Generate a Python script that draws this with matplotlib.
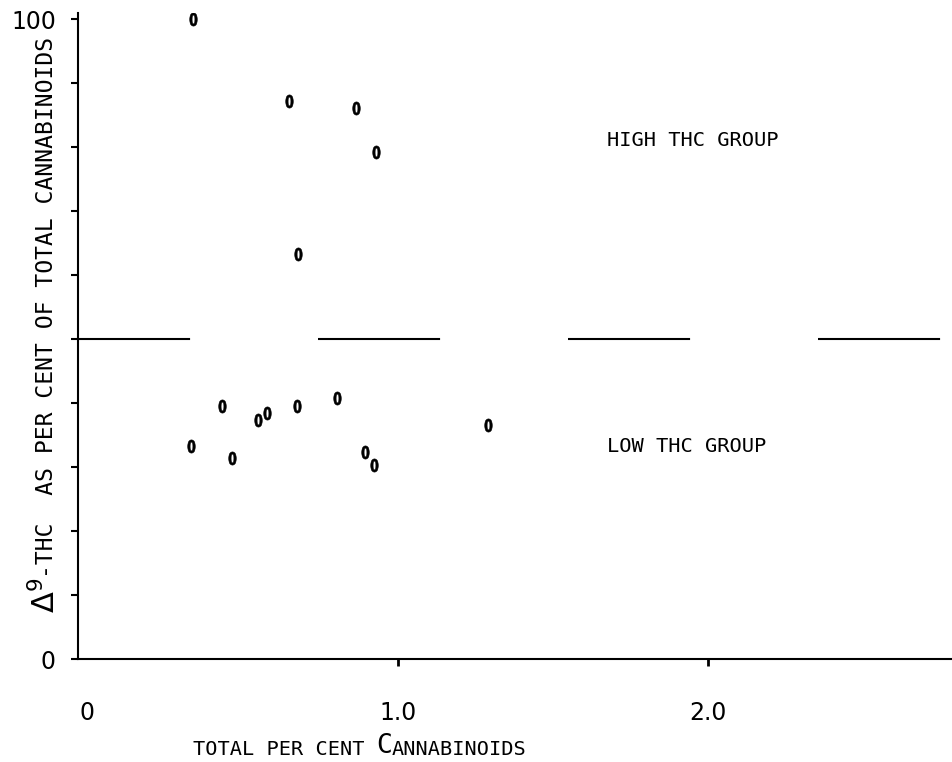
import matplotlib
matplotlib.use('Agg')
import matplotlib.pyplot as plt
from matplotlib.textpath import TextPath
from matplotlib.font_manager import FontProperties
from matplotlib.transforms import Affine2D

# data
total_cannabinoids = [0.34, 0.65, 0.865, 0.93, 0.68,
                      0.435, 0.58, 0.55, 0.675, 0.805, 0.335, 0.465, 0.895, 0.925, 1.29]
thc_percent = [100.0, 87.3, 86.2, 79.3, 63.4,
               39.6, 38.5, 37.4, 39.6, 40.8, 33.3, 31.5, 32.4, 30.4, 36.6]
divider = 50
x_ticks = [0, 1, 2]
x_ticklabels = ['0', '1.0', '2.0']
y_ticks = list(range(0, 101, 10))
y_ticklabels = ['0', '', '', '', '', '', '', '', '', '', '100']

mono = ['DejaVu Sans Mono']

# narrow bold "0" used as the plotting symbol
zero = TextPath((0, 0), '0', prop=FontProperties(family='DejaVu Sans', weight='bold'))
ext = zero.get_extents()
zero = zero.transformed(Affine2D().translate(-(ext.x0 + ext.x1) / 2, -(ext.y0 + ext.y1) / 2)
                        .scale(0.72, 1.0))

fig = plt.figure(figsize=(9.53, 7.62), dpi=100)
ax = fig.add_axes([0.082, 0.135, 0.918, 0.848])

ax.plot(total_cannabinoids, thc_percent, linestyle='none', marker=zero,
        markersize=9.5, color='black', markeredgewidth=0.4)

# high / low split line
ax.axhline(divider, color='black', lw=1.5, linestyle=(4.8, (58.6, 61.4)))

ax.text(1.675, 81, 'HIGH THC GROUP', family=mono, fontsize=14.7, va='center')
ax.text(1.675, 33.2, 'LOW THC GROUP', family=mono, fontsize=14.7, va='center')

ax.set_xlim(-0.03, 2.79)
ax.set_ylim(0, 101)
for s in ['top', 'right']:
    ax.spines[s].set_visible(False)
for s in ['left', 'bottom']:
    ax.spines[s].set_linewidth(1.5)

ax.set_xticks(x_ticks)
ax.set_xticklabels(x_ticklabels, fontsize=17)
ax.set_yticks(y_ticks)
ax.set_yticklabels(y_ticklabels, fontsize=17)
ax.tick_params(axis='x', direction='out', length=5, width=2, pad=25)
ax.tick_params(axis='y', direction='out', length=5, width=1.5, pad=11)
ax.xaxis.get_major_ticks()[0].tick1line.set_visible(False)

# y label: big delta, then the rest
ylab = fig.text(0.047, 0.195, r'$\Delta^{9}$', rotation=90, fontsize=22,
                ha='center', va='bottom')
ax.annotate('-THC  AS PER CENT OF TOTAL CANNABINOIDS', xy=(0.5, 1), xycoords=ylab,
            rotation=90, ha='center', va='bottom', family=mono, fontsize=16.6,
            xytext=(1, 0), textcoords='offset points')

# x label with a larger C
p1 = fig.text(0.202, 0.004, 'TOTAL PER CENT ', family=mono, fontsize=14.6,
              ha='left', va='bottom')
p2 = ax.annotate('C', xy=(1, 0), xycoords=p1, family=mono, fontsize=19,
                 ha='left', va='bottom')
ax.annotate('ANNABINOIDS', xy=(1, 0), xycoords=p2, family=mono, fontsize=14.6,
            ha='left', va='bottom')

fig.savefig('out.png', dpi=100)
